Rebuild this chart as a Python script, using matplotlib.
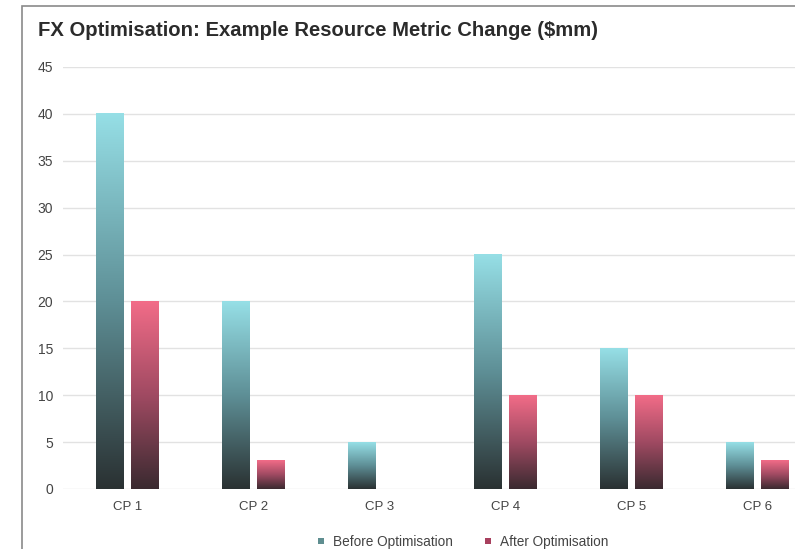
import matplotlib
matplotlib.use("Agg")
import matplotlib.pyplot as plt
import numpy as np
from matplotlib.colors import LinearSegmentedColormap
from matplotlib.patches import Rectangle, Patch

categories = ["CP 1", "CP 2", "CP 3", "CP 4", "CP 5", "CP 6"]
before = [40, 20, 5, 25, 15, 5]
after = [20, 3, 0, 10, 10, 3]
series_names = ["Before Optimisation", "After Optimisation"]

plt.rcParams["font.family"] = ["Liberation Sans", "DejaVu Sans"]

W, H = 795, 549
fig = plt.figure(figsize=(W / 100, H / 100), dpi=100)

# outer frame (cropped on the right and bottom)
fig.patches.append(Rectangle((22 / W, -0.1), 1.2, 1 - 6 / H + 0.1,
                             transform=fig.transFigure, fill=False,
                             edgecolor="#8a8a8a", linewidth=1.2))

ax = fig.add_axes([63 / W, (H - 489) / H, 1 - 63 / W, (489 - 67) / H])

cmap_before = LinearSegmentedColormap.from_list("b", ["#2a3132", "#5e8f96", "#96dfe6"])
cmap_after = LinearSegmentedColormap.from_list("a", ["#3a2a30", "#a04a62", "#f26c88"])
grad = np.linspace(0, 1, 256).reshape(-1, 1)

x = np.arange(len(categories))
width = 0.222
offset = 0.139

for vals, off, cm in [(before, -offset, cmap_before), (after, offset, cmap_after)]:
    for xi, v in zip(x, vals):
        if v <= 0:
            continue
        ax.imshow(grad, extent=[xi + off - width / 2, xi + off + width / 2, 0, v],
                  origin="lower", cmap=cm, aspect="auto", zorder=3,
                  interpolation="bilinear")

ax.set_xlim(-0.512, 5.298)
ax.set_ylim(0, 45)
ax.set_yticks(np.arange(0, 46, 5))
ax.set_xticks(x)
ax.set_xticklabels(categories)
ax.tick_params(axis="both", length=0, labelsize=9.5, colors="#444444")
ax.tick_params(axis="y", pad=7, labelsize=10)
ax.tick_params(axis="x", pad=9)
ax.grid(axis="y", color="#e2e2e2", linewidth=1)
ax.set_axisbelow(True)
for s in ax.spines.values():
    s.set_visible(False)

fig.text(38 / W, 1 - 31 / H, "FX Optimisation: Example Resource Metric Change ($mm)",
         fontsize=14.6, fontweight="bold", color="#2b2b2b", va="center", ha="left")

handles = [Patch(facecolor="#5f8e90"), Patch(facecolor="#a8405e")]
fig.legend(handles, series_names, loc="center", ncol=2,
           bbox_to_anchor=(463 / W, 1 - 542 / H), frameon=False,
           fontsize=9.8, handlelength=0.45, handleheight=0.3,
           columnspacing=2.4, handletextpad=0.65, labelcolor="#444444")

fig.savefig("out.png", dpi=100)
